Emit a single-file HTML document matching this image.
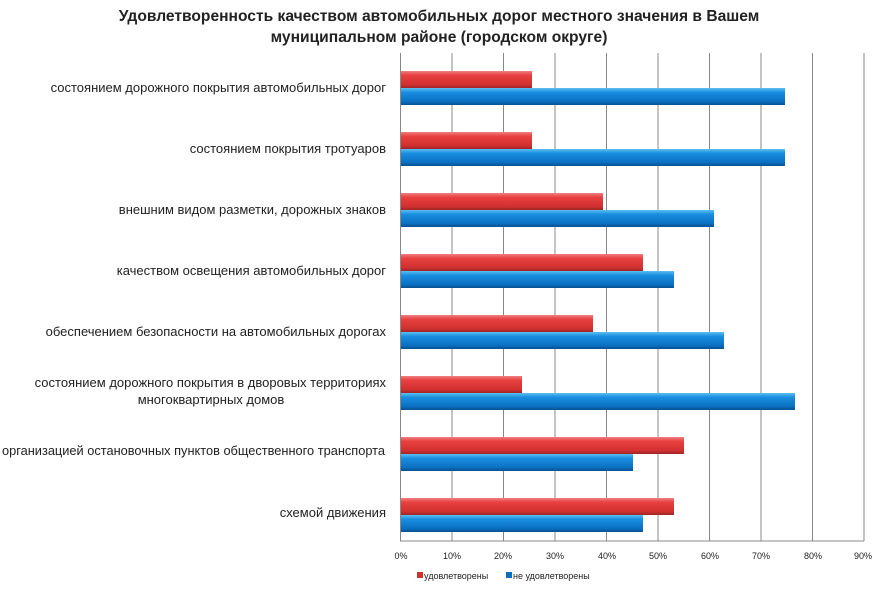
<!DOCTYPE html>
<html><head><meta charset="utf-8"><style>
body{margin:0;background:#fff;}
svg text{font-family:"Liberation Sans","DejaVu Sans",sans-serif;}
</style></head><body>
<svg width="879" height="588" xmlns="http://www.w3.org/2000/svg">
<defs>
<linearGradient id="r" x1="0" y1="0" x2="0" y2="1">
<stop offset="0" stop-color="#f08080"/><stop offset="0.25" stop-color="#e84040"/><stop offset="0.8" stop-color="#d03030"/><stop offset="1" stop-color="#9c2424"/></linearGradient>
<linearGradient id="b" x1="0" y1="0" x2="0" y2="1">
<stop offset="0" stop-color="#5cc0f0"/><stop offset="0.25" stop-color="#1a8ee0"/><stop offset="0.8" stop-color="#0b6fc0"/><stop offset="1" stop-color="#084f8c"/></linearGradient>
</defs>
<text x="439" y="21" text-anchor="middle" font-size="15.6" font-weight="bold" fill="#222">Удовлетворенность качеством автомобильных дорог местного значения в Вашем</text>
<text x="439" y="42" text-anchor="middle" font-size="15.6" font-weight="bold" fill="#222">муниципальном районе (городском округе)</text>
<g stroke="#888" stroke-width="1">
<line x1="400.5" y1="53" x2="400.5" y2="541"/>
<line x1="452" y1="53" x2="452" y2="541"/>
<line x1="503.5" y1="53" x2="503.5" y2="541"/>
<line x1="555" y1="53" x2="555" y2="541"/>
<line x1="606.5" y1="53" x2="606.5" y2="541"/>
<line x1="658" y1="53" x2="658" y2="541"/>
<line x1="709.5" y1="53" x2="709.5" y2="541"/>
<line x1="761" y1="53" x2="761" y2="541"/>
<line x1="812.5" y1="53" x2="812.5" y2="541"/>
<line x1="864" y1="53" x2="864" y2="541"/>
<line x1="400" y1="541" x2="864" y2="541"/>
</g>
<g>
<rect x="401" y="71" width="131" height="17" fill="url(#r)"/><rect x="401" y="88" width="384" height="17" fill="url(#b)"/>
<rect x="401" y="132" width="131" height="17" fill="url(#r)"/><rect x="401" y="149" width="384" height="17" fill="url(#b)"/>
<rect x="401" y="193" width="202" height="17" fill="url(#r)"/><rect x="401" y="210" width="313" height="17" fill="url(#b)"/>
<rect x="401" y="254" width="242" height="17" fill="url(#r)"/><rect x="401" y="271" width="273" height="17" fill="url(#b)"/>
<rect x="401" y="315" width="192" height="17" fill="url(#r)"/><rect x="401" y="332" width="323" height="17" fill="url(#b)"/>
<rect x="401" y="376" width="121" height="17" fill="url(#r)"/><rect x="401" y="393" width="394" height="17" fill="url(#b)"/>
<rect x="401" y="437" width="283" height="17" fill="url(#r)"/><rect x="401" y="454" width="232" height="17" fill="url(#b)"/>
<rect x="401" y="498" width="273" height="17" fill="url(#r)"/><rect x="401" y="515" width="242" height="17" fill="url(#b)"/>
</g>
<g font-size="13" fill="#222">
<text x="386" y="92" text-anchor="end">состоянием дорожного покрытия автомобильных дорог</text>
<text x="386" y="153" text-anchor="end">состоянием покрытия тротуаров</text>
<text x="386" y="214" text-anchor="end">внешним видом разметки, дорожных знаков</text>
<text x="386" y="275" text-anchor="end">качеством освещения автомобильных дорог</text>
<text x="386" y="336" text-anchor="end">обеспечением безопасности на автомобильных дорогах</text>
<text x="386" y="387" text-anchor="end">состоянием дорожного покрытия в дворовых территориях</text>
<text x="211" y="404" text-anchor="middle">многоквартирных домов</text>
<text x="2" y="455" textLength="383" lengthAdjust="spacingAndGlyphs">организацией остановочных пунктов общественного транспорта</text>
<text x="386" y="517" text-anchor="end">схемой движения</text>
</g>
<g font-size="9" fill="#222" text-anchor="middle">
<text x="401" y="559">0%</text><text x="452" y="559">10%</text><text x="503" y="559">20%</text><text x="555" y="559">30%</text><text x="607" y="559">40%</text><text x="658" y="559">50%</text><text x="710" y="559">60%</text><text x="761" y="559">70%</text><text x="813" y="559">80%</text><text x="863" y="559">90%</text>
</g>
<rect x="417" y="572" width="6" height="6" fill="#d03030"/>
<text x="424" y="579" font-size="9" fill="#222">удовлетворены</text>
<rect x="506" y="572" width="6" height="6" fill="#0b6fc0"/>
<text x="513" y="579" font-size="9" fill="#222">не удовлетворены</text>
</svg>
</body></html>
